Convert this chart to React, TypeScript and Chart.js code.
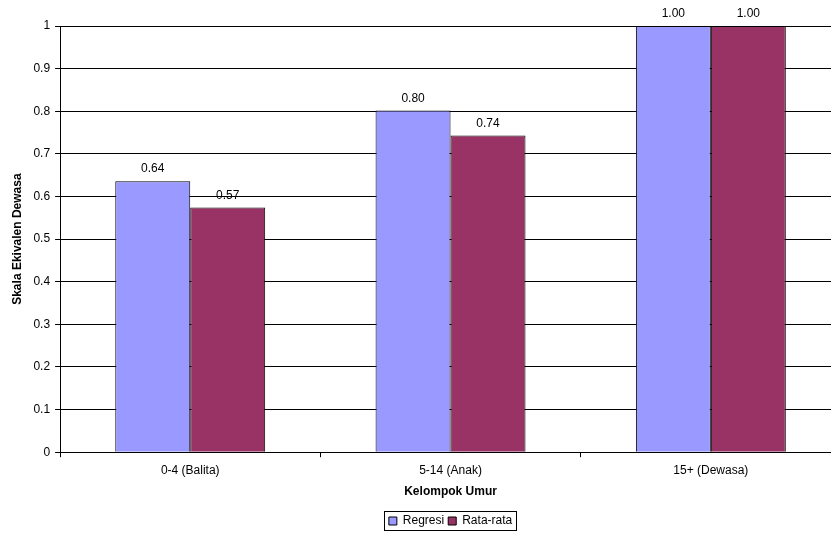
import React, { useEffect, useRef } from "react";
import { Chart, registerables } from "chart.js";

Chart.register(...registerables);

const categories = ["0-4 (Balita)", "5-14 (Anak)", "15+ (Dewasa)"];
const regresi = [0.636, 0.802, 1.0];
const rataRata = [0.574, 0.743, 1.0];
const seriesNames = ["Regresi", "Rata-rata"];
const yTickMax = 1;
const yTickStep = 0.1;

const FONT = "'Liberation Sans', Arial, sans-serif";

const valueLabels = {
  id: "valueLabels",
  afterDatasetsDraw(chart: any) {
    const ctx = chart.ctx;
    ctx.save();
    ctx.font = `12px ${FONT}`;
    ctx.fillStyle = "#000";
    ctx.textAlign = "center";
    ctx.textBaseline = "bottom";
    chart.data.datasets.forEach((ds: any, i: number) => {
      const meta = chart.getDatasetMeta(i);
      meta.data.forEach((bar: any, j: number) => {
        ctx.fillText(Number(ds.data[j]).toFixed(2), bar.x, bar.y - 6);
      });
    });
    ctx.restore();
  },
};

const legendBorder = {
  id: "legendBorder",
  afterDraw(chart: any) {
    const lg = chart.legend;
    if (!lg || !lg.legendHitBoxes || !lg.legendHitBoxes.length) return;
    const boxes = lg.legendHitBoxes;
    let l = Infinity, r = -Infinity, t = Infinity, b = -Infinity;
    boxes.forEach((h: any) => {
      l = Math.min(l, h.left);
      r = Math.max(r, h.left + h.width);
      t = Math.min(t, h.top);
      b = Math.max(b, h.top + h.height);
    });
    const ctx = chart.ctx;
    ctx.save();
    ctx.strokeStyle = "#000";
    ctx.lineWidth = 1;
    ctx.strokeRect(Math.round(l - 5) + 0.5, Math.round(t - 4) + 0.5, Math.round(r - l + 9), Math.round(b - t + 7));
    ctx.restore();
  },
};

export default function App() {
  const ref = useRef<HTMLCanvasElement>(null);
  useEffect(() => {
    const chart = new Chart(ref.current!, {
      type: "bar",
      data: {
        labels: categories,
        datasets: [
          {
            label: seriesNames[0],
            data: regresi,
            backgroundColor: "#9999FF",
            borderColor: "#000",
            borderWidth: 1,
            categoryPercentage: 0.576,
            barPercentage: 1,
          },
          {
            label: seriesNames[1],
            data: rataRata,
            backgroundColor: "#993366",
            borderColor: "#000",
            borderWidth: 1,
            categoryPercentage: 0.576,
            barPercentage: 1,
          },
        ],
      },
      options: {
        responsive: false,
        animation: false,
        devicePixelRatio: 1,
        layout: { padding: { top: 26, left: 8, right: 0, bottom: 0 } },
        plugins: {
          legend: {
            position: "bottom",
            fullSize: false,
            labels: {
              boxWidth: 8,
              boxHeight: 8,
              padding: 4,
              color: "#000",
              font: { family: FONT, size: 12 },
            },
          },
          tooltip: { enabled: false },
        },
        scales: {
          x: {
            grid: { display: true, drawOnChartArea: false, tickLength: 5, color: "#000", offset: true },
            border: { color: "#000" },
            ticks: { color: "#000", font: { family: FONT, size: 12 }, padding: 6 },
            title: {
              display: true,
              text: "Kelompok Umur",
              color: "#000",
              font: { family: FONT, size: 12, weight: "bold" },
              padding: { top: 1, bottom: 12 },
            },
          },
          y: {
            min: 0,
            max: yTickMax,
            ticks: {
              stepSize: yTickStep,
              color: "#000",
              font: { family: FONT, size: 12 },
              padding: 5,
              callback: (v: any) => String(Math.round(Number(v) * 10) / 10),
            },
            grid: { color: "#000", tickLength: 5 },
            border: { color: "#000" },
            title: {
              display: true,
              text: "Skala Ekivalen Dewasa",
              color: "#000",
              font: { family: FONT, size: 12, weight: "bold" },
              padding: { top: 2, bottom: 4 },
            },
          },
        },
      },
      plugins: [valueLabels, legendBorder],
    });
    return () => chart.destroy();
  }, []);
  return (
    <div style={{ position: "fixed", left: 0, top: 0, width: 831, height: 537, overflow: "hidden", background: "#fff" }}>
      <canvas ref={ref} width={841} height={537} style={{ display: "block", width: 841, height: 537 }} />
    </div>
  );
}
